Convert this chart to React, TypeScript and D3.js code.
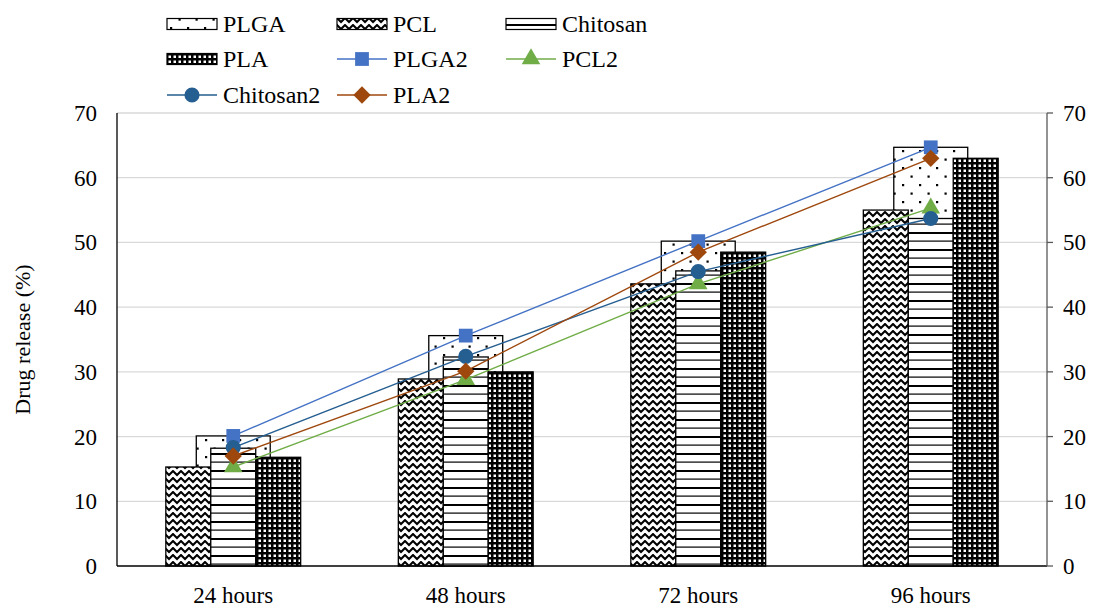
import React, { useRef, useEffect } from "react";
import { select, scaleLinear, scaleBand, line, symbol, symbolSquare, symbolCircle, symbolTriangle } from "d3";

// categories along the x axis
const hours = ["24 hours", "48 hours", "72 hours", "96 hours"];

// bar series
const plga = [20.1, 35.6, 50.2, 64.7];
const pcl = [15.3, 28.9, 43.6, 55.0];
const chitosan = [18.2, 32.3, 45.6, 53.7];
const pla = [16.8, 30.0, 48.5, 63.0];

// line series
const plga2 = [20.1, 35.6, 50.2, 64.7];
const pcl2 = [15.3, 28.8, 43.6, 55.3];
const chitosan2 = [18.3, 32.4, 45.5, 53.7];
const pla2 = [17.0, 30.1, 48.5, 63.0];

const yTicks = [0, 10, 20, 30, 40, 50, 60, 70];

const FONT = "Liberation Serif, Times New Roman, serif";

// diamond as a rotated square path (d3's own diamond is too narrow)
const diamond = {
  draw(context: any, size: number) {
    const r = Math.sqrt(size / 2);
    context.moveTo(0, -r);
    context.lineTo(r, 0);
    context.lineTo(0, r);
    context.lineTo(-r, 0);
    context.closePath();
  },
};

const App: React.FC = () => {
  const d3Element = useRef(null);

  useEffect(() => {
    select(d3Element.current).selectAll("*").remove();
    const width = 1093,
      height = 608;
    const svg = select(d3Element.current)
      .append("svg")
      .attr("width", width)
      .attr("height", height)
      .attr("font-family", FONT)
      .style("display", "block");

    const margin = { top: 113, right: 46, bottom: 42, left: 117 };
    const innerWidth = width - margin.left - margin.right;
    const innerHeight = height - margin.top - margin.bottom;

    // patterns
    const defs = svg.append("defs");
    const pDots = defs
      .append("pattern")
      .attr("id", "p-plga")
      .attr("patternUnits", "userSpaceOnUse")
      .attr("width", 17)
      .attr("height", 17);
    pDots.append("rect").attr("width", 17).attr("height", 17).attr("fill", "#fff");
    pDots.append("rect").attr("x", 3).attr("y", 3).attr("width", 2.2).attr("height", 2.2).attr("fill", "#000");
    pDots.append("rect").attr("x", 11.5).attr("y", 11.5).attr("width", 2.2).attr("height", 2.2).attr("fill", "#000");

    const pZig = defs
      .append("pattern")
      .attr("id", "p-pcl")
      .attr("patternUnits", "userSpaceOnUse")
      .attr("width", 8)
      .attr("height", 7);
    pZig.append("rect").attr("width", 8).attr("height", 7).attr("fill", "#fff");
    pZig
      .append("path")
      .attr("d", "M-1,0 L0,1 L4,5 L8,1 L9,0")
      .attr("stroke", "#000")
      .attr("stroke-width", 2)
      .attr("fill", "none");

    const pLines = defs
      .append("pattern")
      .attr("id", "p-chitosan")
      .attr("patternUnits", "userSpaceOnUse")
      .attr("width", 10)
      .attr("height", 17);
    pLines.append("rect").attr("width", 10).attr("height", 17).attr("fill", "#fff");
    pLines.append("rect").attr("y", 0).attr("width", 10).attr("height", 2).attr("fill", "#000");
    pLines.append("rect").attr("y", 8.5).attr("width", 10).attr("height", 1.2).attr("fill", "#000");

    const pGrid = defs
      .append("pattern")
      .attr("id", "p-pla")
      .attr("patternUnits", "userSpaceOnUse")
      .attr("width", 5)
      .attr("height", 5);
    pGrid.append("rect").attr("width", 5).attr("height", 5).attr("fill", "#000");
    pGrid.append("rect").attr("x", 1.5).attr("y", 1.5).attr("width", 2.5).attr("height", 2.5).attr("fill", "#fff");

    const xScale = scaleBand().domain(hours).range([0, innerWidth]).padding(0);
    const bw = xScale.bandwidth();
    const subScale = scaleBand()
      .domain(["PCL", "Chitosan", "PLA"])
      .range([-bw * 0.29, bw * 0.29]);
    const yScale = scaleLinear().domain([0, 70]).range([innerHeight, 0]);
    const cx = (d: string) => (xScale(d) as number) + bw / 2;

    const g: any = svg.append("g").attr("transform", `translate(${margin.left},${margin.top})`);

    // gridlines
    g.selectAll(".grid")
      .data(yTicks.slice(1))
      .enter()
      .append("line")
      .attr("x1", 0)
      .attr("x2", innerWidth)
      .attr("y1", (d: number) => yScale(d))
      .attr("y2", (d: number) => yScale(d))
      .attr("stroke", "#d9d9d9")
      .attr("stroke-width", 1.3);

    // wide PLGA bars behind
    const plgaW = bw * 0.318;
    g.selectAll(".bar-plga")
      .data(plga)
      .enter()
      .append("rect")
      .attr("x", (d: number, i: number) => cx(hours[i]) - plgaW / 2)
      .attr("y", (d: number) => yScale(d))
      .attr("width", plgaW)
      .attr("height", (d: number) => innerHeight - yScale(d))
      .attr("fill", "url(#p-plga)")
      .attr("stroke", "#000")
      .attr("stroke-width", 1.3);

    const barSeries = [
      { name: "PCL", values: pcl, fill: "url(#p-pcl)" },
      { name: "Chitosan", values: chitosan, fill: "url(#p-chitosan)" },
      { name: "PLA", values: pla, fill: "url(#p-pla)" },
    ];
    barSeries.forEach((s) => {
      g.selectAll(".bar-" + s.name)
        .data(s.values)
        .enter()
        .append("rect")
        .attr("x", (d: number, i: number) => cx(hours[i]) + (subScale(s.name) as number))
        .attr("y", (d: number) => yScale(d))
        .attr("width", subScale.bandwidth())
        .attr("height", (d: number) => innerHeight - yScale(d))
        .attr("fill", s.fill)
        .attr("stroke", "#000")
        .attr("stroke-width", 1.3);
    });

    // axes
    g.append("line")
      .attr("x1", 0)
      .attr("x2", 0)
      .attr("y1", 0)
      .attr("y2", innerHeight)
      .attr("stroke", "#000")
      .attr("stroke-width", 1.3);
    g.append("line")
      .attr("x1", 0)
      .attr("x2", innerWidth)
      .attr("y1", innerHeight)
      .attr("y2", innerHeight)
      .attr("stroke", "#000")
      .attr("stroke-width", 1.3);
    g.append("line")
      .attr("x1", innerWidth)
      .attr("x2", innerWidth)
      .attr("y1", 0)
      .attr("y2", innerHeight)
      .attr("stroke", "#595959")
      .attr("stroke-width", 1.3);
    g.selectAll(".rtick")
      .data(yTicks)
      .enter()
      .append("line")
      .attr("x1", innerWidth)
      .attr("x2", innerWidth + 6)
      .attr("y1", (d: number) => yScale(d))
      .attr("y2", (d: number) => yScale(d))
      .attr("stroke", "#595959")
      .attr("stroke-width", 1.3);

    g.selectAll(".ltext")
      .data(yTicks)
      .enter()
      .append("text")
      .attr("x", -20)
      .attr("y", (d: number) => yScale(d))
      .attr("dy", "0.35em")
      .attr("text-anchor", "end")
      .attr("font-family", FONT)
      .attr("font-size", 23)
      .attr("fill", "#000")
      .text((d: number) => d);
    g.selectAll(".rtext")
      .data(yTicks)
      .enter()
      .append("text")
      .attr("x", innerWidth + 16)
      .attr("y", (d: number) => yScale(d))
      .attr("dy", "0.35em")
      .attr("text-anchor", "start")
      .attr("font-family", FONT)
      .attr("font-size", 23)
      .attr("fill", "#000")
      .text((d: number) => d);
    g.selectAll(".xtext")
      .data(hours)
      .enter()
      .append("text")
      .attr("x", (d: string) => cx(d))
      .attr("y", innerHeight + 37)
      .attr("text-anchor", "middle")
      .attr("font-family", FONT)
      .attr("font-size", 23)
      .attr("fill", "#000")
      .text((d: string) => d);

    svg
      .append("text")
      .attr("transform", `translate(30,${margin.top + innerHeight / 2}) rotate(-90)`)
      .attr("text-anchor", "middle")
      .attr("font-family", FONT)
      .attr("font-size", 22)
      .attr("fill", "#000")
      .text("Drug release (%)");

    // lines + markers
    const lineSeries = [
      { name: "PLGA2", values: plga2, color: "#4472c4", shape: symbolSquare, size: 190 },
      { name: "PCL2", values: pcl2, color: "#70ad47", shape: symbolTriangle, size: 150 },
      { name: "Chitosan2", values: chitosan2, color: "#255e91", shape: symbolCircle, size: 180 },
      { name: "PLA2", values: pla2, color: "#9e480e", shape: diamond, size: 150 },
    ];
    const lineGen = line<number>()
      .x((d, i) => cx(hours[i]))
      .y((d) => yScale(d));
    lineSeries.forEach((s) => {
      g.append("path")
        .attr("d", lineGen(s.values))
        .attr("fill", "none")
        .attr("stroke", s.color)
        .attr("stroke-width", 1.4);
    });
    lineSeries.forEach((s) => {
      g.selectAll(".m-" + s.name)
        .data(s.values)
        .enter()
        .append("path")
        .attr("transform", (d: number, i: number) => `translate(${cx(hours[i])},${yScale(d)})`)
        .attr("d", symbol().type(s.shape as any).size(s.size))
        .attr("fill", s.color);
    });

    // legend
    const legendItems = [
      { name: "PLGA", kind: "bar", fill: "url(#p-plga)" },
      { name: "PCL", kind: "bar", fill: "url(#p-pcl)" },
      { name: "Chitosan", kind: "bar", fill: "url(#p-chitosan)" },
      { name: "PLA", kind: "bar", fill: "url(#p-pla)" },
      ...lineSeries.map((s) => ({ ...s, kind: "line" })),
    ];
    const colX = [167, 337, 506];
    const rowY = [24, 59, 95];
    legendItems.forEach((item: any, i) => {
      const lx = colX[i % 3];
      const ly = rowY[Math.floor(i / 3)];
      const lg = svg.append("g").attr("transform", `translate(${lx},${ly})`);
      if (item.kind === "bar") {
        lg.append("rect")
          .attr("x", 0)
          .attr("y", -5.5)
          .attr("width", 50)
          .attr("height", 11)
          .attr("fill", item.fill)
          .attr("stroke", "#000")
          .attr("stroke-width", 1.2);
      } else {
        lg.append("line")
          .attr("x1", 0)
          .attr("x2", 50)
          .attr("y1", 0)
          .attr("y2", 0)
          .attr("stroke", item.color)
          .attr("stroke-width", 1.4);
        lg.append("path")
          .attr("transform", "translate(25,0)")
          .attr("d", symbol().type(item.shape).size(item.size))
          .attr("fill", item.color);
      }
      lg.append("text")
        .attr("x", 56)
        .attr("y", 0)
        .attr("dy", "0.35em")
        .attr("font-family", FONT)
        .attr("font-size", 24)
        .attr("fill", "#000")
        .text(item.name);
    });
  }, []);

  return <div ref={d3Element} style={{ position: "absolute", left: 0, top: 0 }}></div>;
};

export default App;
